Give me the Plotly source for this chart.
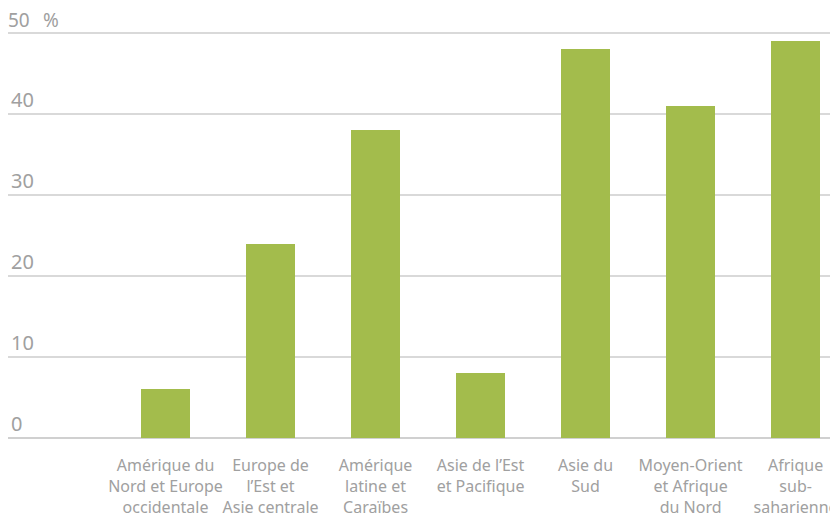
import plotly.graph_objects as go

regions = ["Amérique du<br>Nord et Europe<br>occidentale",
           "Europe de<br>l’Est et<br>Asie centrale",
           "Amérique<br>latine et<br>Caraïbes",
           "Asie de l’Est<br>et Pacifique",
           "Asie du<br>Sud",
           "Moyen-Orient<br>et Afrique<br>du Nord",
           "Afrique<br>sub-<br>saharienne"]
values = [6, 24, 38, 8, 48, 41, 49]
positions = [1, 2, 3, 4, 5, 6, 7]
yticks = [0, 10, 20, 30, 40, 50]

grey = "#a0a0a0"

fig = go.Figure(go.Bar(
    x=positions,
    y=values,
    width=0.46,
    marker=dict(color="#a3bc4c", line=dict(width=0)),
    hoverinfo="skip",
))

# page body has an 8px margin, so offsets are compensated here
fig.update_layout(
    width=838, height=519,
    margin=dict(l=0, r=0, t=1, b=89),
    paper_bgcolor="white",
    plot_bgcolor="white",
    font=dict(family="Noto Sans, Open Sans, sans-serif", color=grey),
    showlegend=False,
    bargap=0,
)

fig.update_xaxes(
    range=[-0.5, 7.48],
    tickvals=positions,
    ticktext=regions,
    tickangle=0,
    automargin=False,
    tickfont=dict(size=16, color=grey),
    ticks="outside", ticklen=13, tickcolor="rgba(0,0,0,0)",
    showgrid=False, zeroline=False, showline=False,
)

# top tick label gets hidden by plotly near the edge, so it is drawn below as text
fig.update_yaxes(
    range=[0, 53],
    tickvals=yticks,
    ticktext=[str(v) if v < yticks[-1] else "" for v in yticks],
    ticklabelposition="inside top",
    automargin=False,
    tickfont=dict(size=20, color=grey),
    showgrid=True, gridcolor="#d9d9d9", gridwidth=1.5,
    zeroline=True, zerolinecolor="#d0d0d0", zerolinewidth=1.5,
    showline=False,
)

fig.add_annotation(text=str(yticks[-1]), xref="paper", yref="y", x=0.0, y=yticks[-1],
                   xanchor="left", yanchor="middle", showarrow=False, borderpad=0,
                   font=dict(size=19, color=grey), yshift=13, xshift=-1)
fig.add_annotation(text="%", xref="paper", yref="y", x=0.041, y=yticks[-1],
                   xanchor="left", yanchor="middle", showarrow=False, borderpad=0,
                   font=dict(size=19, color=grey), yshift=13)

fig.write_html("out.html")
